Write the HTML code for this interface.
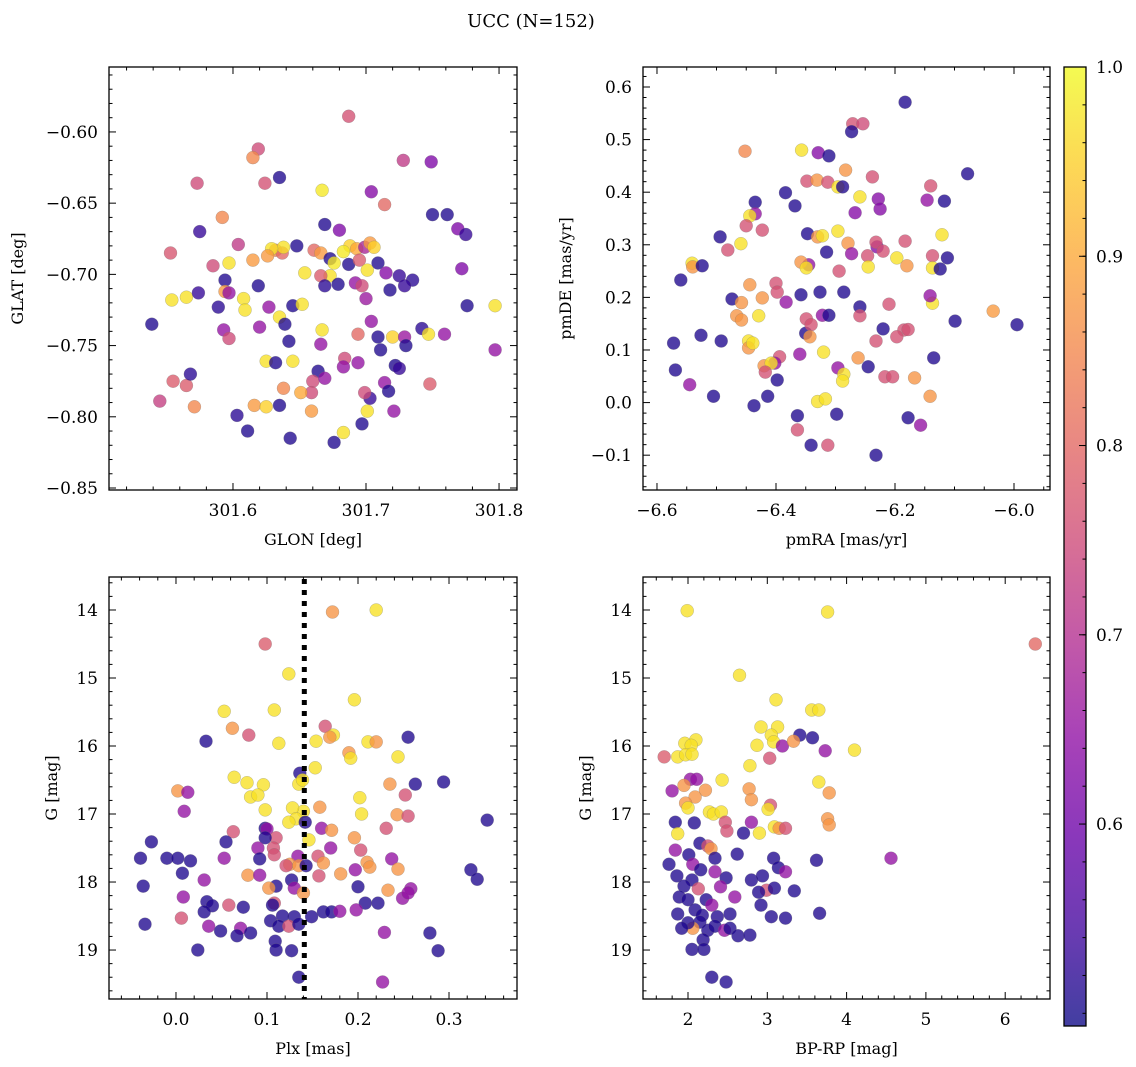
<!DOCTYPE html>
<html><head><meta charset="utf-8"><title>UCC (N=152)</title>
<style>
html,body{margin:0;padding:0;background:#fff;}
svg{display:block;font-family:"DejaVu Serif","Liberation Serif",serif;}
</style></head>
<body>
<svg id="fig" width="1136" height="1067" viewBox="0 0 1136 1067" xmlns="http://www.w3.org/2000/svg">
<defs>
<linearGradient id="cbgrad" x1="0" y1="1" x2="0" y2="0">
<stop offset="0" stop-color="#0d0887"/><stop offset="0.1" stop-color="#41049d"/><stop offset="0.2" stop-color="#6a00a8"/><stop offset="0.3" stop-color="#8f0da4"/><stop offset="0.4" stop-color="#b12a90"/><stop offset="0.5" stop-color="#cc4778"/><stop offset="0.6" stop-color="#e16462"/><stop offset="0.7" stop-color="#f2844b"/><stop offset="0.8" stop-color="#fca636"/><stop offset="0.9" stop-color="#fcce25"/><stop offset="1" stop-color="#f0f921"/>
</linearGradient>
</defs>
<text x="531" y="27" font-size="18" text-anchor="middle">UCC (N=152)</text>
</svg>
<script>
// ---- Panel 1: GLON vs GLAT ----
const glon = [301.687,301.619,301.615,301.573,301.728,301.749,301.635,301.667,301.704,301.624,301.592,301.714,301.750,301.761,301.769,301.775,301.575,301.604,301.553,301.615,301.632,301.637,301.648,301.669,301.680,301.688,301.693,301.683,301.699,301.703,301.706,301.661,301.666,301.638,301.629,301.626,301.597,301.585,301.594,301.687,301.695,301.701,301.709,301.715,301.725,301.735,301.772,301.594,301.597,301.619,301.565,301.554,301.574,301.608,301.609,301.654,301.673,301.676,301.673,301.666,301.669,301.679,301.692,301.697,301.700,301.718,301.729,301.776,301.797,301.539,301.589,301.627,301.635,301.645,301.652,301.704,301.620,301.639,301.667,301.666,301.709,301.720,301.729,301.742,301.747,301.759,301.694,301.730,301.593,301.597,301.625,301.642,301.694,301.711,301.684,301.722,301.725,301.748,301.797,301.555,301.565,301.571,301.545,301.568,301.632,301.645,301.664,301.660,301.669,301.683,301.714,301.717,301.701,301.703,301.721,301.659,301.651,301.638,301.616,301.625,301.603,301.635,301.611,301.643,301.683,301.676,301.697,301.659,301.699];
const glat = [-0.589,-0.612,-0.618,-0.636,-0.620,-0.621,-0.632,-0.641,-0.642,-0.636,-0.660,-0.651,-0.658,-0.658,-0.668,-0.672,-0.670,-0.679,-0.685,-0.690,-0.683,-0.685,-0.680,-0.665,-0.669,-0.680,-0.682,-0.684,-0.681,-0.678,-0.681,-0.683,-0.685,-0.681,-0.682,-0.687,-0.692,-0.694,-0.704,-0.693,-0.690,-0.697,-0.692,-0.699,-0.701,-0.704,-0.696,-0.712,-0.713,-0.708,-0.716,-0.718,-0.713,-0.717,-0.725,-0.699,-0.689,-0.692,-0.701,-0.701,-0.708,-0.707,-0.706,-0.708,-0.717,-0.711,-0.708,-0.722,-0.722,-0.735,-0.723,-0.723,-0.730,-0.722,-0.721,-0.733,-0.737,-0.735,-0.739,-0.749,-0.744,-0.744,-0.744,-0.738,-0.742,-0.742,-0.742,-0.750,-0.739,-0.745,-0.761,-0.747,-0.762,-0.753,-0.759,-0.764,-0.766,-0.777,-0.753,-0.775,-0.778,-0.793,-0.789,-0.770,-0.762,-0.761,-0.768,-0.775,-0.773,-0.765,-0.776,-0.782,-0.796,-0.787,-0.796,-0.783,-0.783,-0.780,-0.792,-0.793,-0.799,-0.792,-0.810,-0.815,-0.811,-0.818,-0.805,-0.796,-0.783];
const prob1 = [0.76,0.75,0.85,0.75,0.72,0.62,0.51,0.98,0.63,0.76,0.85,0.80,0.51,0.51,0.62,0.53,0.53,0.72,0.77,0.88,0.85,0.80,0.51,0.51,0.62,0.95,0.90,0.98,0.68,0.88,0.95,0.80,0.88,0.97,0.97,0.88,0.97,0.75,0.51,0.51,0.78,0.97,0.51,0.63,0.53,0.52,0.62,0.88,0.65,0.51,0.97,0.97,0.53,0.97,0.97,0.97,0.51,0.98,0.97,0.78,0.52,0.51,0.65,0.75,0.66,0.51,0.53,0.51,0.97,0.51,0.52,0.65,0.97,0.51,0.97,0.65,0.65,0.51,0.97,0.65,0.51,0.95,0.66,0.52,0.97,0.65,0.80,0.51,0.65,0.75,0.97,0.51,0.65,0.51,0.75,0.51,0.53,0.78,0.65,0.78,0.78,0.85,0.73,0.52,0.51,0.97,0.51,0.75,0.65,0.65,0.65,0.51,0.97,0.53,0.65,0.75,0.90,0.85,0.88,0.95,0.52,0.51,0.51,0.51,0.97,0.51,0.51,0.88,0.75];

// ---- Panel 2: pmRA vs pmDE ----
const pmra = [-6.183,-6.271,-6.254,-6.273,-6.452,-6.357,-6.329,-6.311,-6.238,-6.078,-6.140,-6.283,-6.348,-6.331,-6.313,-6.296,-6.288,-6.384,-6.435,-6.259,-6.228,-6.117,-6.146,-6.368,-6.225,-6.435,-6.444,-6.267,-6.450,-6.423,-6.296,-6.347,-6.330,-6.322,-6.121,-6.494,-6.459,-6.481,-6.279,-6.230,-6.232,-6.183,-6.345,-6.358,-6.315,-6.273,-6.246,-6.220,-6.137,-6.112,-6.137,-6.180,-6.124,-6.197,-6.245,-6.294,-6.349,-6.541,-6.540,-6.524,-6.560,-6.444,-6.400,-6.398,-6.326,-6.474,-6.423,-6.458,-6.383,-6.358,-6.286,-6.259,-6.210,-6.137,-6.141,-6.466,-6.458,-6.429,-6.349,-6.322,-6.311,-6.259,-6.220,-6.185,-6.178,-6.099,-6.035,-5.995,-6.572,-6.526,-6.492,-6.446,-6.446,-6.439,-6.350,-6.341,-6.343,-6.232,-6.197,-6.135,-6.320,-6.262,-6.360,-6.394,-6.402,-6.420,-6.408,-6.418,-6.245,-6.217,-6.204,-6.167,-6.296,-6.286,-6.288,-6.398,-6.545,-6.505,-6.414,-6.141,-6.330,-6.317,-6.437,-6.298,-6.364,-6.178,-6.364,-6.157,-6.341,-6.313,-6.232,-6.569];
const pmde = [0.571,0.530,0.530,0.515,0.478,0.480,0.475,0.469,0.429,0.435,0.412,0.442,0.421,0.423,0.419,0.410,0.410,0.399,0.381,0.391,0.387,0.383,0.385,0.374,0.368,0.359,0.355,0.361,0.336,0.328,0.326,0.321,0.315,0.317,0.319,0.315,0.302,0.290,0.303,0.296,0.305,0.307,0.262,0.267,0.286,0.283,0.279,0.288,0.279,0.275,0.256,0.260,0.254,0.275,0.258,0.250,0.256,0.265,0.258,0.260,0.233,0.224,0.227,0.210,0.210,0.197,0.199,0.190,0.191,0.205,0.210,0.182,0.187,0.189,0.203,0.165,0.157,0.165,0.159,0.166,0.166,0.165,0.140,0.138,0.139,0.155,0.174,0.148,0.113,0.128,0.117,0.117,0.104,0.113,0.132,0.148,0.125,0.117,0.125,0.085,0.096,0.085,0.092,0.087,0.075,0.070,0.075,0.058,0.068,0.049,0.049,0.047,0.066,0.054,0.041,0.043,0.034,0.012,0.012,0.012,0.002,0.007,-0.006,-0.022,-0.025,-0.029,-0.052,-0.043,-0.081,-0.081,-0.100,0.062];
const prob2 = [0.51,0.76,0.75,0.51,0.85,0.97,0.63,0.51,0.76,0.51,0.76,0.87,0.76,0.87,0.76,0.97,0.51,0.51,0.51,0.97,0.63,0.51,0.65,0.51,0.63,0.65,0.97,0.63,0.76,0.76,0.97,0.51,0.87,0.97,0.97,0.51,0.97,0.76,0.87,0.63,0.76,0.76,0.65,0.87,0.51,0.65,0.76,0.76,0.76,0.51,0.97,0.87,0.51,0.97,0.97,0.76,0.97,0.97,0.87,0.51,0.51,0.87,0.76,0.76,0.51,0.51,0.87,0.87,0.65,0.51,0.51,0.51,0.76,0.97,0.65,0.87,0.87,0.97,0.76,0.65,0.51,0.76,0.51,0.76,0.76,0.51,0.88,0.51,0.51,0.51,0.51,0.97,0.87,0.97,0.51,0.76,0.87,0.76,0.76,0.51,0.97,0.87,0.65,0.76,0.65,0.87,0.97,0.76,0.51,0.76,0.76,0.87,0.65,0.97,0.97,0.51,0.65,0.51,0.51,0.87,0.97,0.97,0.51,0.51,0.51,0.51,0.76,0.65,0.51,0.76,0.51,0.51];

// ---- Panel 3: Plx vs G ----
const plx = [0.172,0.220,0.098,0.124,0.196,0.053,0.108,0.062,0.164,0.173,0.169,0.080,0.033,0.113,0.154,0.211,0.220,0.255,0.244,0.190,0.192,0.153,0.136,0.064,0.078,0.096,0.082,0.090,0.135,0.139,0.263,0.294,0.002,0.013,0.252,0.202,0.235,0.158,0.098,0.009,0.140,0.128,0.132,0.204,0.243,0.255,0.342,0.124,0.142,0.160,0.098,0.100,0.063,0.231,0.171,0.110,0.098,0.196,0.146,-0.027,0.055,0.090,0.107,0.170,0.203,0.108,0.134,0.210,0.237,0.156,-0.039,-0.010,0.002,0.053,0.092,0.016,0.125,0.121,0.135,0.143,0.162,0.197,0.213,0.244,0.324,0.331,0.007,0.079,0.092,0.127,0.157,0.181,-0.036,0.031,0.110,0.130,0.102,0.140,0.200,0.258,0.233,0.008,0.034,0.040,0.058,0.074,0.108,0.208,0.222,0.249,0.255,0.031,0.106,0.162,0.171,0.180,0.198,0.130,0.117,0.149,0.104,0.113,0.124,0.135,0.036,-0.034,0.071,0.049,0.082,0.067,0.229,0.279,0.006,0.109,0.024,0.110,0.127,0.288,0.135,0.227];
const gmag3 = [14.03,14.00,14.50,14.94,15.32,15.49,15.47,15.74,15.71,15.84,15.87,15.84,15.93,15.96,15.93,15.94,15.94,15.87,16.16,16.10,16.18,16.32,16.40,16.46,16.54,16.57,16.75,16.72,16.56,16.50,16.56,16.53,16.66,16.68,16.72,16.76,16.56,16.90,16.94,16.96,16.96,16.91,17.07,17.00,17.01,17.03,17.09,17.12,17.12,17.21,17.21,17.22,17.26,17.21,17.24,17.35,17.35,17.35,17.38,17.41,17.41,17.50,17.50,17.50,17.53,17.60,17.62,17.71,17.66,17.62,17.65,17.65,17.65,17.65,17.66,17.69,17.74,17.76,17.76,17.76,17.72,17.82,17.78,17.81,17.82,17.96,17.87,17.90,17.90,17.97,17.91,17.88,18.06,17.97,18.06,18.09,18.09,18.16,18.07,18.10,18.12,18.22,18.29,18.35,18.34,18.37,18.31,18.31,18.31,18.24,18.16,18.44,18.34,18.44,18.44,18.43,18.41,18.51,18.50,18.51,18.57,18.65,18.65,18.62,18.65,18.62,18.68,18.72,18.75,18.79,18.74,18.75,18.53,18.87,19.00,19.00,19.01,19.01,19.40,19.47];
const prob3 = [0.87,0.97,0.78,0.97,0.97,0.97,0.97,0.87,0.76,0.97,0.87,0.76,0.51,0.97,0.97,0.97,0.87,0.51,0.97,0.87,0.97,0.97,0.51,0.97,0.97,0.97,0.97,0.97,0.97,0.97,0.51,0.51,0.87,0.65,0.76,0.97,0.87,0.87,0.97,0.65,0.97,0.97,0.97,0.97,0.87,0.76,0.51,0.97,0.51,0.65,0.51,0.65,0.76,0.76,0.87,0.76,0.51,0.87,0.97,0.51,0.51,0.65,0.76,0.65,0.76,0.76,0.65,0.87,0.65,0.76,0.51,0.51,0.51,0.65,0.51,0.51,0.87,0.76,0.87,0.51,0.87,0.65,0.87,0.87,0.51,0.51,0.51,0.87,0.65,0.51,0.76,0.87,0.51,0.65,0.51,0.65,0.87,0.87,0.51,0.65,0.87,0.65,0.51,0.51,0.76,0.51,0.76,0.51,0.51,0.65,0.65,0.51,0.51,0.51,0.51,0.65,0.65,0.51,0.51,0.51,0.51,0.51,0.76,0.51,0.65,0.51,0.65,0.51,0.51,0.51,0.65,0.51,0.76,0.51,0.51,0.51,0.51,0.51,0.51,0.65];

// ---- Panel 4: BP-RP vs G ----
const bprp = [1.99,3.76,6.38,2.65,3.11,3.56,3.65,2.92,3.13,3.41,3.05,2.10,1.96,2.04,3.57,2.87,3.08,3.19,3.33,3.03,1.87,1.97,1.70,2.05,3.73,4.10,2.78,2.43,2.03,2.11,1.95,2.22,3.65,3.78,1.80,2.77,2.09,1.97,2.80,3.04,2.00,3.01,2.27,2.32,2.42,1.84,2.08,2.47,2.80,3.76,3.78,3.09,3.15,3.23,2.90,2.70,1.87,2.49,2.15,2.25,2.29,1.84,2.01,2.34,2.62,3.08,3.62,4.56,1.76,2.06,2.16,3.14,2.34,3.23,1.86,2.05,2.48,2.80,2.94,1.95,2.13,2.41,2.99,3.09,2.89,3.34,1.89,2.00,2.23,2.59,2.92,2.09,2.30,1.87,2.18,2.37,2.53,3.66,3.05,3.23,2.15,2.06,2.00,2.25,2.34,1.92,2.46,2.53,2.63,2.78,2.19,2.05,2.20,2.30,2.48];
const gmag4 = [14.01,14.03,14.50,14.96,15.32,15.47,15.47,15.72,15.72,15.84,15.84,15.91,15.96,15.99,15.88,15.99,15.94,16.00,15.93,16.18,16.16,16.13,16.16,16.12,16.07,16.06,16.29,16.50,16.49,16.49,16.58,16.65,16.53,16.69,16.66,16.63,16.75,16.84,16.79,16.87,16.91,16.93,16.97,17.00,16.97,17.12,17.13,17.12,17.12,17.07,17.16,17.19,17.21,17.21,17.28,17.28,17.29,17.25,17.43,17.47,17.51,17.53,17.60,17.65,17.59,17.65,17.68,17.65,17.74,17.74,17.82,17.79,17.85,17.85,17.91,17.97,17.94,17.97,17.91,18.06,18.10,18.07,18.12,18.09,18.15,18.13,18.22,18.26,18.26,18.22,18.34,18.41,18.34,18.47,18.49,18.51,18.47,18.46,18.51,18.53,18.59,18.68,18.60,18.71,18.65,18.68,18.71,18.68,18.79,18.78,18.85,18.99,18.99,19.40,19.47];
const prob4 = [0.97,0.97,0.80,0.97,0.97,0.97,0.97,0.97,0.97,0.51,0.97,0.97,0.97,0.97,0.51,0.97,0.97,0.65,0.87,0.76,0.97,0.97,0.78,0.97,0.65,0.97,0.97,0.97,0.65,0.65,0.87,0.87,0.97,0.87,0.65,0.87,0.87,0.87,0.87,0.76,0.97,0.97,0.97,0.97,0.97,0.51,0.51,0.76,0.65,0.87,0.87,0.97,0.87,0.76,0.97,0.51,0.97,0.76,0.51,0.76,0.87,0.65,0.51,0.51,0.51,0.51,0.51,0.65,0.51,0.65,0.51,0.51,0.65,0.65,0.51,0.51,0.51,0.51,0.51,0.51,0.76,0.65,0.76,0.51,0.51,0.51,0.51,0.51,0.51,0.65,0.51,0.51,0.65,0.51,0.51,0.51,0.51,0.51,0.51,0.51,0.51,0.87,0.51,0.51,0.51,0.51,0.65,0.51,0.51,0.51,0.51,0.51,0.51,0.51,0.51];

const plxLine = [0.141];
const cbTicks = [0.6, 0.7, 0.8, 0.9, 1.0];
const cbMin = 0.4933, cbMax = 1.0;

const NS = "http://www.w3.org/2000/svg";
const svg = document.getElementById('fig');
const stops = ["#0d0887","#41049d","#6a00a8","#8f0da4","#b12a90","#cc4778","#e16462","#f2844b","#fca636","#fcce25","#f0f921"];
function hex(h){return [parseInt(h.substr(1,2),16),parseInt(h.substr(3,2),16),parseInt(h.substr(5,2),16)];}
function plasma(v){
  let t=(v-cbMin)/(cbMax-cbMin); t=Math.max(0,Math.min(1,t));
  const p=t*10, i=Math.min(9,Math.floor(p)), f=p-i;
  const a=hex(stops[i]), b=hex(stops[i+1]);
  return 'rgb('+a.map((c,k)=>Math.round(c+(b[k]-c)*f)).join(',')+')';
}
function el(tag, attrs, parent){
  const e=document.createElementNS(NS,tag);
  for(const k in attrs) e.setAttribute(k, attrs[k]);
  (parent||svg).appendChild(e); return e;
}
function fmt(v,dec){let s=v.toFixed(dec); if(s.startsWith('-')) s='\u2212'+s.slice(1); return s;}

function panel(cfg){
  const g=el('g',{});
  
  
  const X=v=>cfg.L+(v-cfg.xmin)/(cfg.xmax-cfg.xmin)*(cfg.R-cfg.L);
  const Y=v=>cfg.T+(v-cfg.ytop)/(cfg.ybot-cfg.ytop)*(cfg.B-cfg.T);
  const pg=el('g',{},g);
  
  
  for(let i=0;i<cfg.xs.length;i++){
    const c=el('circle',{cx:X(cfg.xs[i]).toFixed(1),cy:Y(cfg.ys[i]).toFixed(1),r:6.5,fill:plasma(cfg.cs[i]),'fill-opacity':0.78,stroke:'#777','stroke-width':0.4,'stroke-opacity':0.6},pg);
    
    
  }
  if(cfg.vline){
    for(const v of cfg.vline){
      const ln=el('line',{x1:X(v),x2:X(v),y1:cfg.T+2,y2:cfg.B,stroke:'#000','stroke-width':5,'stroke-dasharray':'5 6'},g);
      
      
    }
  }
  const fr=el('rect',{x:cfg.L,y:cfg.T,width:cfg.R-cfg.L,height:cfg.B-cfg.T,fill:'none',stroke:'#000','stroke-width':1.3},g);
  
  
  const tg=el('g',{stroke:'#000','stroke-width':1},g);
  const lo=Math.min(cfg.xmin,cfg.xmax), hi=Math.max(cfg.xmin,cfg.xmax);
  for(let k=Math.ceil(lo/cfg.xminor-1e-6);k*cfg.xminor<=hi+1e-9;k++){
    const v=k*cfg.xminor, x=X(v);
    const major=Math.abs(v/cfg.xmajor-Math.round(v/cfg.xmajor))<1e-6;
    const len=major?7:3.5;
    el('line',{x1:x,x2:x,y1:cfg.B,y2:cfg.B-len},tg);
    el('line',{x1:x,x2:x,y1:cfg.T,y2:cfg.T+len},tg);
    if(major){
      const t=el('text',{x:x,y:cfg.B+26,'font-size':17,'text-anchor':'middle',stroke:'none',fill:'#000'},g);
      t.textContent=fmt(v,cfg.xdec);
      
      
    }
  }
  const ylo=Math.min(cfg.ytop,cfg.ybot), yhi=Math.max(cfg.ytop,cfg.ybot);
  for(let k=Math.ceil(ylo/cfg.yminor-1e-6);k*cfg.yminor<=yhi+1e-9;k++){
    const v=k*cfg.yminor, y=Y(v);
    const major=Math.abs(v/cfg.ymajor-Math.round(v/cfg.ymajor))<1e-6;
    const len=major?7:3.5;
    el('line',{x1:cfg.L,x2:cfg.L+len,y1:y,y2:y},tg);
    el('line',{x1:cfg.R,x2:cfg.R-len,y1:y,y2:y},tg);
    if(major){
      const t=el('text',{x:cfg.L-11,y:y+6,'font-size':17,'text-anchor':'end',stroke:'none',fill:'#000'},g);
      t.textContent=fmt(v,cfg.ydec);
      
      
    }
  }
  const xl=el('text',{x:(cfg.L+cfg.R)/2,y:cfg.B+55,'font-size':16,'text-anchor':'middle'},g);
  xl.textContent=cfg.xlabel;
  
  
  const yc=(cfg.T+cfg.B)/2;
  const yl=el('text',{x:cfg.ylx,y:yc,'font-size':16,'text-anchor':'middle',transform:'rotate(-90 '+cfg.ylx+' '+yc+')'},g);
  yl.textContent=cfg.ylabel;
  
  
}

panel({name:'glon-glat-panel',L:109,R:517,T:67,B:490,xmin:301.5068,xmax:301.8135,ytop:-0.5544,ybot:-0.8514,
  xmajor:0.1,xminor:0.02,xdec:1,ymajor:0.05,yminor:0.01,ydec:2,xlabel:'GLON [deg]',ylabel:'GLAT [deg]',ylx:23,
  xs:glon,ys:glat,cs:prob1});
panel({name:'pm-panel',L:643,R:1050,T:67,B:490,xmin:-6.6235,xmax:-5.9395,ytop:0.638,ybot:-0.1662,
  xmajor:0.2,xminor:0.05,xdec:1,ymajor:0.1,yminor:0.02,ydec:1,xlabel:'pmRA [mas/yr]',ylabel:'pmDE [mas/yr]',ylx:571,
  xs:pmra,ys:pmde,cs:prob2});
panel({name:'plx-g-panel',L:109,R:517,T:577,B:999,xmin:-0.0736,xmax:0.3747,ytop:13.515,ybot:19.72,
  xmajor:0.1,xminor:0.02,xdec:1,ymajor:1,yminor:0.2,ydec:0,xlabel:'Plx [mas]',ylabel:'G [mag]',ylx:57,
  xs:plx,ys:gmag3,cs:prob3,vline:plxLine});
panel({name:'cmd-panel',L:643,R:1050,T:577,B:999,xmin:1.4325,xmax:6.565,ytop:13.515,ybot:19.72,
  xmajor:1,xminor:0.2,xdec:0,ymajor:1,yminor:0.2,ydec:0,xlabel:'BP-RP [mag]',ylabel:'G [mag]',ylx:591,
  xs:bprp,ys:gmag4,cs:prob4});

(function(){
  const L=1064,R=1086,T=67,B=1026;
  const g=el('g',{});
  
  
  const r=el('rect',{x:L,y:T,width:R-L,height:B-T,fill:'url(#cbgrad)','fill-opacity':0.78,stroke:'none'},g);
  
  
  el('rect',{x:L,y:T,width:R-L,height:B-T,fill:'none',stroke:'#000','stroke-width':1.3},g);
  const Y=v=>B-(v-cbMin)/(cbMax-cbMin)*(B-T);
  for(let k=Math.ceil(cbMin/0.02);k*0.02<=cbMax+1e-9;k++){
    const v=k*0.02, y=Y(v);
    el('line',{x1:R,x2:R-3.5,y1:y,y2:y,stroke:'#000','stroke-width':1},g);
  }
  for(const v of cbTicks){
    const y=Y(v);
    el('line',{x1:R,x2:R-7,y1:y,y2:y,stroke:'#000','stroke-width':1},g);
    const t=el('text',{x:R+10,y:y+6,'font-size':17},g);
    t.textContent=v.toFixed(1);
    
    
  }
})();
</script>
</body></html>
